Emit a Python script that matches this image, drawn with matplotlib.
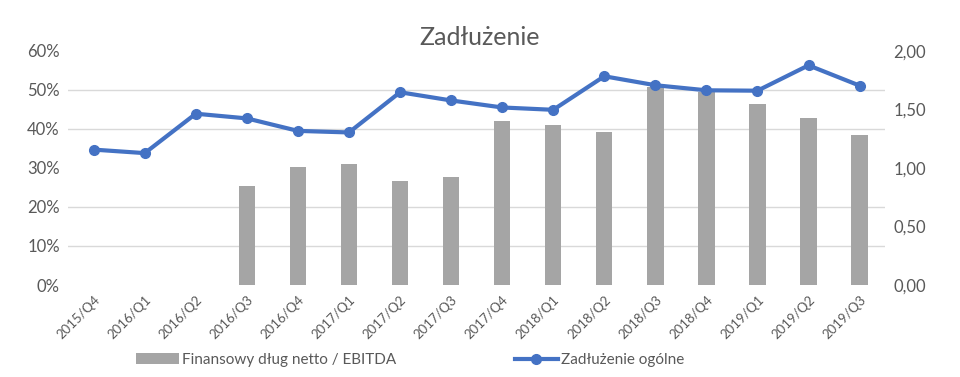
import matplotlib
matplotlib.use("Agg")
from matplotlib import pyplot as plt
from matplotlib.ticker import FuncFormatter, MultipleLocator
import numpy as np

plt.rcParams['font.family'] = ['Lato', 'DejaVu Sans']

# --------------- data ---------------
quarters = ['2015/Q4', '2016/Q1', '2016/Q2', '2016/Q3', '2016/Q4', '2017/Q1',
            '2017/Q2', '2017/Q3', '2017/Q4', '2018/Q1', '2018/Q2', '2018/Q3',
            '2018/Q4', '2019/Q1', '2019/Q2', '2019/Q3']
debt_ebitda = [np.nan, np.nan, np.nan, 0.85, 1.01, 1.03, 0.89, 0.92, 1.40, 1.37,
               1.31, 1.69, 1.65, 1.55, 1.43, 1.28]
debt_total = [34.7, 33.8, 43.9, 42.7, 39.5, 39.1, 49.4, 47.3, 45.5, 44.9,
              53.5, 51.2, 49.9, 49.8, 56.3, 51.1]

grey_txt = '#595959'
x = np.arange(len(quarters))

fig = plt.figure(figsize=(9.6, 3.77), dpi=100)
ax1 = fig.add_axes([0.071, 0.244, 0.851, 0.621])
ax2 = ax1.twinx()

# bars on the right axis, drawn underneath
ax2.bar(x, debt_ebitda, width=0.32, color='#A5A5A5', zorder=2,
        label='Finansowy dług netto / EBITDA')
ax2.set_ylim(0, 2)
ax2.yaxis.set_major_locator(MultipleLocator(0.5))
ax2.yaxis.set_minor_locator(MultipleLocator(1 / 3))
ax2.yaxis.set_major_formatter(FuncFormatter(lambda v, p: f'{v:.2f}'.replace('.', ',')))
ax2.grid(which='minor', axis='y', color='#D9D9D9', lw=1, zorder=0)
ax2.set_axisbelow(True)

# line on the left axis, drawn on top
ax1.set_zorder(ax2.get_zorder() + 1)
ax1.patch.set_visible(False)
ax1.plot(x, debt_total, color='#4472C4', lw=3, marker='o', markersize=7,
         label='Zadłużenie ogólne')
ax1.set_ylim(0, 60)
ax1.yaxis.set_major_locator(MultipleLocator(10))
ax1.yaxis.set_major_formatter(FuncFormatter(lambda v, p: f'{v:.0f}%'))
ax1.set_xlim(-0.5, len(quarters) - 0.5)
ax1.set_xticks(x)
ax1.set_xticklabels(quarters, rotation=45, ha='right', rotation_mode='anchor')

for a in (ax1, ax2):
    for s in a.spines.values():
        s.set_visible(False)
    a.tick_params(which='both', length=0, colors=grey_txt)
ax1.tick_params(axis='y', labelsize=12, pad=6)
ax2.tick_params(axis='y', labelsize=12, pad=6)
ax1.tick_params(axis='x', labelsize=9.5, pad=6)

fig.text(0.5, 0.9, 'Zadłużenie', ha='center', va='center', fontsize=18, color=grey_txt)

h2, l2 = ax2.get_legend_handles_labels()
h1, l1 = ax1.get_legend_handles_labels()
leg = fig.legend(h2 + h1, l2 + l1, loc='center', bbox_to_anchor=(0.427, 0.045),
                 ncol=2, frameon=False, fontsize=11, handlelength=2.8,
                 columnspacing=7.8, handletextpad=0.2)
for t in leg.get_texts():
    t.set_color(grey_txt)

fig.savefig('out.png', dpi=100)
